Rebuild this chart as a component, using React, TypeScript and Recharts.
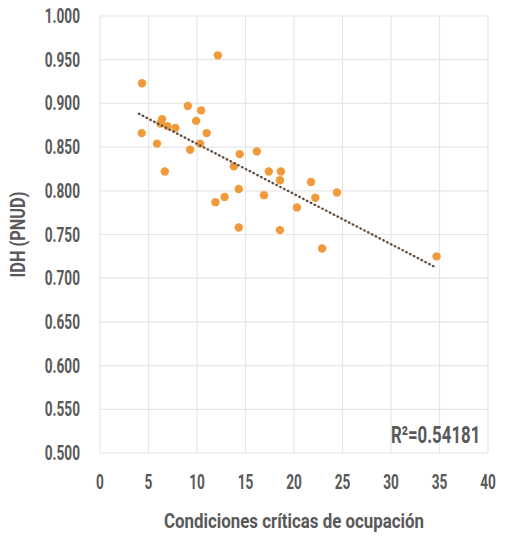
import React from 'react';
import { ScatterChart, Scatter, XAxis, YAxis, CartesianGrid, Label } from 'recharts';

// condiciones críticas de ocupación (x) vs IDH (y)
const ocupacion = [
  4.34, 4.3, 12.15, 9.05, 10.43, 6.4, 6.23, 6.95, 7.77, 9.91, 11.0,
  5.88, 9.29, 10.32, 6.68, 14.4, 16.17, 13.8, 17.4, 18.65, 18.55, 14.3,
  12.84, 16.9, 21.75, 24.43, 22.2, 20.3, 22.9, 18.55, 14.3, 11.9, 34.7,
];
const idh = [
  0.923, 0.866, 0.955, 0.897, 0.892, 0.882, 0.877, 0.874, 0.872, 0.88, 0.866,
  0.854, 0.847, 0.854, 0.822, 0.842, 0.845, 0.828, 0.822, 0.822, 0.812, 0.802,
  0.793, 0.795, 0.81, 0.798, 0.792, 0.781, 0.734, 0.755, 0.758, 0.787, 0.725,
];

// linear trend endpoints
const trendX = [4.03, 34.6];
const trendY = [0.888, 0.7125];

const xTicks = [0, 5, 10, 15, 20, 25, 30, 35, 40];
const yTicks = [0.5, 0.55, 0.6, 0.65, 0.7, 0.75, 0.8, 0.85, 0.9, 0.95, 1.0];
const rSquared = 'R²=0.54181';

const points = ocupacion.map((x, i) => ({ x, y: idh[i] }));
const trend = trendX.map((x, i) => ({ x, y: trendY[i] }));

// the original uses a condensed face; squeeze Roboto horizontally
const FONT = 'Roboto, "DejaVu Sans", sans-serif';
const SQUEEZE = 0.7;
const TEXT = '#595959';
const ORANGE = '#F19A3B';

function CondText({ x, y, anchor, dy, size, children }: any) {
  return (
    <text
      transform={`translate(${x},${y}) scale(${SQUEEZE},1)`}
      x={0}
      y={0}
      dy={dy}
      textAnchor={anchor}
      fill={TEXT}
      fontSize={size}
      fontFamily={FONT}
      fontWeight={700}
    >
      {children}
    </text>
  );
}

const XTick = ({ x, y, payload }: any) => (
  <CondText x={x} y={y} anchor="middle" dy="0.72em" size={19.5}>
    {payload.value}
  </CondText>
);

const YTick = ({ x, y, payload }: any) => (
  <CondText x={x} y={y} anchor="end" dy="0.36em" size={19.5}>
    {Number(payload.value).toFixed(3)}
  </CondText>
);

export default function App() {
  return (
    <div style={{ position: 'absolute', left: 0, top: 0, width: 514, height: 537, background: '#fff' }}>
      <ScatterChart width={514} height={537} margin={{ top: 16, right: 26, left: 40, bottom: 4 }}>
        <CartesianGrid stroke="#e6e6e6" strokeWidth={1.2} />
        <XAxis
          type="number"
          dataKey="x"
          domain={[0, 40]}
          ticks={xTicks}
          axisLine={false}
          tickLine={false}
          tickSize={0}
          tickMargin={22}
          height={80}
          tick={<XTick />}
          interval={0}
        >
          <Label
            content={(props: any) => {
              const vb = props.viewBox || {};
              const cx = (vb.x || 0) + (vb.width || 0) / 2;
              return (
                <text
                  x={cx}
                  y={528}
                  textAnchor="middle"
                  textLength={260}
                  lengthAdjust="spacingAndGlyphs"
                  fill={TEXT}
                  fontSize={19.5}
                  fontFamily={FONT}
                  fontWeight={700}
                >
                  Condiciones críticas de ocupación
                </text>
              );
            }}
          />
        </XAxis>
        <YAxis
          type="number"
          dataKey="y"
          domain={[0.5, 1]}
          ticks={yTicks}
          axisLine={false}
          tickLine={false}
          tickSize={0}
          tickMargin={20}
          width={60}
          tick={<YTick />}
          interval={0}
        >
          <Label
            content={(props: any) => {
              const vb = props.viewBox || {};
              const cy = (vb.y || 0) + (vb.height || 0) / 2;
              return (
                <text
                  x={25}
                  y={cy}
                  transform={`rotate(-90, 25, ${cy})`}
                  textAnchor="middle"
                  textLength={86}
                  lengthAdjust="spacingAndGlyphs"
                  fill={TEXT}
                  fontSize={19.5}
                  fontFamily={FONT}
                  fontWeight={700}
                >
                  IDH (PNUD)
                </text>
              );
            }}
          />
        </YAxis>
        <Scatter
          data={trend}
          isAnimationActive={false}
          line={{ stroke: '#F6C08A', strokeWidth: 1 }}
          shape={() => null}
        />
        <Scatter
          data={points}
          isAnimationActive={false}
          shape={(p: any) => <circle cx={p.cx} cy={p.cy} r={4.2} fill={ORANGE} />}
        />
        <Scatter
          data={trend}
          isAnimationActive={false}
          line={{ stroke: '#505050', strokeWidth: 2.5, strokeDasharray: '0.1 4.2', strokeLinecap: 'round' }}
          shape={() => null}
        />
      </ScatterChart>
      <div
        style={{
          position: 'absolute',
          right: 34,
          top: 421,
          color: TEXT,
          fontFamily: FONT,
          fontWeight: 700,
          fontSize: 24.5,
          lineHeight: '28px',
          whiteSpace: 'nowrap',
          transform: `scaleX(${SQUEEZE * 0.98})`,
          transformOrigin: 'right center',
        }}
      >
        {rSquared}
      </div>
    </div>
  );
}
